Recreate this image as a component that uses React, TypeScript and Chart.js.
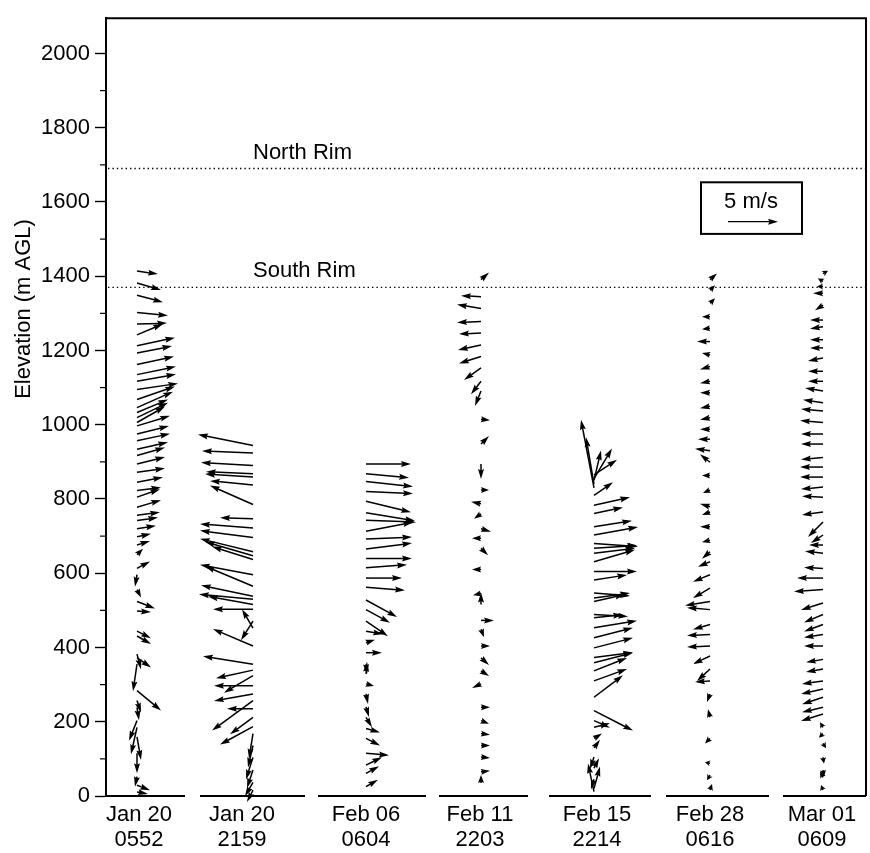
import React, { useEffect, useRef } from 'react';
import { Chart, registerables } from 'chart.js';

Chart.register(...registerables);

const FONT = '"Liberation Sans", Arial, Helvetica, sans-serif';

// Profile captions (date / local time)
const profileDates = ['Jan 20', 'Jan 20', 'Feb 06', 'Feb 11', 'Feb 15', 'Feb 28', 'Mar 01'];
const profileTimes = ['0552', '2159', '0604', '2203', '2214', '0616', '0609'];

// Horizontal scale is in m/s so that wind components map straight to pixels.
const profileBase = [3.1, 14.7, 26.0, 37.5, 48.8, 60.4, 71.7];
const labelCenters = [3.3, 13.6, 26.0, 37.4, 49.1, 60.4, 71.6];
const baselineSegments = [
  [0, 7.9], [9.4, 19.9], [21.2, 32.0], [33.3, 42.2], [44.3, 54.5], [56.0, 66.3], [67.7, 76.0],
];

const rimNames = ['North Rim', 'South Rim'];
const rimHeights = [1690, 1370];

// Wind vectors: height (m AGL), eastward u and northward v (m/s)
const hJan20a = [11, 29, 52, 115, 159, 185, 203, 239, 257, 284, 355, 373, 382, 431, 444, 498, 524, 556, 596, 613, 650, 676, 698, 720, 742, 756, 778, 805, 823, 845, 872, 894, 917, 934, 957, 975, 997, 1006, 1019, 1033, 1046, 1068, 1095, 1117, 1135, 1162, 1193, 1213, 1242, 1271, 1302, 1349, 1382, 1414];
const uJan20a = [1.1, 1.3, -0.2, 0, 0.4, -0.6, -0.8, 0.2, 0.4, 2.4, -0.4, 1.4, 0.4, 1.4, 1.4, 1.4, 1.8, 0.4, -0.2, 1.3, 0.6, 1.3, 1.4, 1.9, 2.1, 2.3, 2.4, 2.3, 2.4, 2.6, 2.8, 2.8, 2.8, 3.1, 3.3, 3.2, 3.3, 2.8, 3.1, 3.1, 3.6, 3.8, 4.1, 3.9, 3.9, 3.7, 3.5, 3.8, 2.6, 3.0, 3.1, 2.6, 2.4, 2.1];
const vJan20a = [-0.2, -0.5, -1.0, -2.0, -2.3, -2.7, -2.0, -1.3, -1.2, -2.0, -2.7, -1.0, -1.5, -0.8, -0.7, -0.1, -0.7, -0.8, -1.2, 0.7, 0.6, 0.4, 0.3, 0.3, 0.3, 0.3, 0.7, 0.8, 0.3, 0.5, 0.4, 0.7, 0.8, 0.7, 0.7, 0.8, 1.0, 1.6, 1.5, 1.3, 1.6, 1.3, 0.6, 0.7, 0.8, 0.8, 0.7, 0.8, 1.1, 0.1, -0.3, -0.7, -0.7, -0.3];

const hJan20b = [16, 37, 70, 104, 136, 168, 187, 212, 235, 257, 275, 297, 324, 339, 355, 404, 452, 471, 503, 516, 530, 538, 565, 596, 637, 647, 658, 696, 722, 747, 785, 838, 859, 868, 890, 924, 944];
const uJan20b = [-0.6, -0.8, -0.6, -0.7, -0.5, -0.4, -3.3, -2.3, -2.6, -4.1, -3.9, -3.9, -2.9, -3.7, -5.0, -4.0, -1.1, -1.2, -4.0, -4.5, -5.4, -5.2, -4.8, -5.3, -4.1, -4.8, -5.3, -5.3, -5.3, -3.3, -4.3, -4.3, -4.8, -4.7, -5.2, -5.1, -5.5];
const vJan20b = [-1.2, -1.4, -1.8, -2.2, -2.2, -2.5, -1.8, -1.7, 0, -3.0, -0.7, 0, -1.7, -0.8, 0.8, 1.7, 1.9, -1.9, 0, 0.8, 0.5, 1.1, 2.0, 1.0, 1.3, 1.4, 1.3, 0.7, 0.4, 0.1, 1.9, 0.4, 0.3, 0.2, 0.3, 0.2, 1.1];

const hFeb06 = [25, 61, 83, 115, 155, 182, 212, 240, 275, 302, 329, 355, 386, 413, 444, 471, 502, 528, 562, 587, 615, 640, 665, 692, 713, 743, 763, 794, 820, 847, 868, 894];
const uFeb06 = [1.2, 1.3, 1.6, 2.3, 1.4, 1.4, 0.6, 0.3, 0.2, 0.8, 0.1, 0.1, 1.6, 0.9, 1.7, 2.2, 2.4, 3.1, 3.9, 3.6, 4.1, 4.6, 4.6, 4.6, 4.7, 5.0, 4.9, 4.5, 4.7, 4.7, 4.3, 4.5];
const vFeb06 = [0.7, 0.7, 0.8, -0.2, -0.7, -0.4, -1.0, -1.0, -1.0, -0.2, 1.2, -1.0, 0, 0.3, -0.3, -1.5, -1.3, -1.7, -0.3, 0, 0.3, 0, 0.6, 0.2, 0.9, -0.2, -0.8, -1.1, -0.2, -0.5, -0.4, 0];

const hFeb11 = [35, 65, 105, 136, 168, 203, 239, 302, 337, 372, 404, 449, 473, 516, 546, 610, 667, 694, 720, 760, 787, 824, 894, 948, 1015, 1091, 1117, 1153, 1184, 1215, 1247, 1278, 1313, 1345, 1391];
const uFeb11 = [0, 0.9, 0.9, 0.9, 0.9, 0.8, 0.9, -0.9, 0.8, 0.8, 0.9, 0.3, 1.3, 0, -0.8, -0.9, 0.7, -0.9, 1.0, -0.7, -1.0, 0.8, 0, 0.8, 0.9, -0.6, -1.0, -1.7, -2.2, -2.3, -2.2, -2.4, -2.4, -2.0, 0.8];
const vFeb11 = [0.8, 0.1, -0.1, 0, -0.1, -0.3, 0, -0.4, -0.5, -0.7, 0, -0.8, 0, 1.2, -0.2, 0, -0.7, 0, -0.3, -0.5, 0.2, 0, -1.5, 0.8, -0.1, -1.5, -1.3, -1.2, -0.7, -0.5, -0.1, -0.1, 0.4, 0.1, 0.7];

const hFeb15 = [12, 20, 45, 75, 105, 130, 155, 185, 203, 230, 266, 310, 337, 359, 373, 399, 426, 453, 480, 489, 524, 533, 547, 582, 605, 631, 654, 667, 680, 703, 725, 761, 783, 810, 830, 840, 850, 855, 865];
const uFeb15 = [-0.6, 0.6, -0.3, 0.5, -0.4, 0.6, 0.8, 1.6, 1.6, 3.9, 2.9, 3.3, 3.3, 3.9, 3.9, 3.9, 3.9, 4.3, 2.9, 3.4, 3.1, 3.6, 3.6, 3.3, 4.3, 4.1, 4.1, 4.3, 4.4, 4.4, 3.8, 2.9, 3.6, 1.9, -1.3, -0.8, 0.7, 1.8, 2.3];
const vFeb15 = [2.8, 2.2, -1.0, 1.0, -1.2, 0.8, 0.5, 0.4, -0.7, -2.0, 2.2, 1.2, 1.3, 1.0, 0.5, 1.0, 1.0, 0.7, 0.3, -0.2, 0.7, 0.5, -0.3, 0.5, 0, 1.2, 0.5, 0.3, -0.3, 0.8, 0.6, 0.6, 0.8, 1.3, 6.8, 4.7, 3.0, 3.0, 1.5];

const hFeb28 = [16, 56, 88, 155, 212, 275, 310, 342, 377, 404, 435, 462, 502, 524, 560, 596, 631, 658, 689, 725, 765, 779, 824, 863, 899, 930, 961, 988, 1019, 1050, 1086, 1117, 1157, 1188, 1224, 1260, 1291, 1327, 1362, 1391];
const uFeb28 = [0.2, -0.3, -0.5, -0.5, -0.2, -0.3, -1.5, -1.3, -1.7, -2.3, -2.3, -1.7, -2.3, -2.5, -1.7, -1.7, -1.2, -0.8, -0.8, -1.0, -0.8, -1.0, -0.7, -0.8, -1.0, -1.5, -1.2, -1.0, -1.0, -1.0, -1.0, -1.0, -1.0, -0.8, -1.3, -0.8, -0.8, 0.5, 0.5, 0.7];
const vFeb28 = [0.6, -0.5, 0.1, -0.5, 0.8, -0.8, -0.1, -1.2, -0.8, -0.1, -0.1, -0.5, 0.2, -0.4, -1.0, -0.7, -0.5, -0.7, -0.2, 0, -0.3, 0.3, -0.3, 0, 0.8, 0.2, 0, 0, -0.2, -0.2, 0, -0.2, -0.3, 0.2, 0, -0.1, 0, 0.5, 0.5, 0.6];

const hMar01 = [16, 50, 70, 104, 142, 168, 185, 221, 239, 266, 288, 310, 342, 368, 404, 435, 462, 489, 520, 556, 587, 613, 654, 676, 703, 738, 765, 805, 832, 859, 886, 912, 948, 975, 1006, 1037, 1059, 1091, 1117, 1144, 1180, 1207, 1229, 1264, 1282, 1322, 1354, 1372, 1386, 1407];
const uMar01 = [-0.2, -0.3, 0.1, 0.1, 0.3, -0.4, -0.3, -2.2, -2.1, -2.1, -2.2, -2.1, -1.7, -1.7, -1.9, -1.9, -1.9, -1.9, -2.2, -2.9, -2.6, -1.9, -1.8, -1.4, -1.2, -1.5, -2.1, -2.1, -2.2, -2.3, -2.3, -2.2, -2.2, -2.2, -2.3, -2.2, -2.0, -1.8, -1.5, -1.5, -1.5, -1.3, -1.3, -1.3, -1.3, -0.8, -1.0, -0.6, -0.5, 0.5];
const vMar01 = [0.5, 0.6, -0.7, -0.6, -0.5, -0.4, 0.5, -0.7, -0.5, -0.7, -0.5, -0.3, -0.3, -0.3, 0, -0.3, -0.7, -0.8, -0.7, -0.2, 0, 0.1, 0.2, 0, -0.8, -1.5, -0.3, 0.1, -0.2, 0, 0, -0.2, 0, 0, 0.2, 0.2, 0.3, 0.3, 0, 0, -0.3, 0, 0, -0.2, 0, -0.5, 0, 0, 0.3, 0.3];

const profiles = [
  { h: hJan20a, u: uJan20a, v: vJan20a },
  { h: hJan20b, u: uJan20b, v: vJan20b },
  { h: hFeb06, u: uFeb06, v: vFeb06 },
  { h: hFeb11, u: uFeb11, v: vFeb11 },
  { h: hFeb15, u: uFeb15, v: vFeb15 },
  { h: hFeb28, u: uFeb28, v: vFeb28 },
  { h: hMar01, u: uMar01, v: vMar01 },
];

const referenceSpeed = 5; // m/s, key arrow

function drawArrow(ctx: CanvasRenderingContext2D, x0: number, y0: number, x1: number, y1: number) {
  const dx = x1 - x0;
  const dy = y1 - y0;
  const len = Math.hypot(dx, dy);
  if (len < 0.5) return;
  const ux = dx / len;
  const uy = dy / len;
  const headLen = Math.min(10, len);
  const hw = 3;
  const bx = x1 - ux * headLen;
  const by = y1 - uy * headLen;
  ctx.beginPath();
  ctx.moveTo(x0, y0);
  ctx.lineTo(bx + ux * 2, by + uy * 2);
  ctx.stroke();
  ctx.beginPath();
  ctx.moveTo(x1, y1);
  ctx.lineTo(bx - uy * hw, by + ux * hw);
  ctx.lineTo(bx + ux * 1.5, by + uy * 1.5);
  ctx.lineTo(bx + uy * hw, by - ux * hw);
  ctx.closePath();
  ctx.fill();
}

const windArrows = {
  id: 'windArrows',
  afterDatasetsDraw(chart: any) {
    const { ctx, scales } = chart;
    const xs = scales.x;
    const unit = xs.getPixelForValue(1) - xs.getPixelForValue(0);
    ctx.save();
    ctx.strokeStyle = '#000';
    ctx.fillStyle = '#000';
    ctx.lineWidth = 1.5;
    ctx.lineCap = 'butt';
    chart.data.datasets.forEach((_ds: any, di: number) => {
      const meta = chart.getDatasetMeta(di);
      const p = profiles[di];
      meta.data.forEach((pt: any, i: number) => {
        drawArrow(ctx, pt.x, pt.y, pt.x + p.u[i] * unit, pt.y - p.v[i] * unit);
      });
    });
    ctx.restore();
  },
};

const frameAndNotes = {
  id: 'frameAndNotes',
  afterDraw(chart: any) {
    const { ctx, chartArea, scales } = chart;
    const xs = scales.x;
    const ys = scales.y;
    const { left, right, top, bottom } = chartArea;
    ctx.save();
    ctx.strokeStyle = '#000';
    ctx.fillStyle = '#000';

    // top and right frame
    ctx.lineWidth = 2;
    ctx.beginPath();
    ctx.moveTo(left, top);
    ctx.lineTo(right - 2, top);
    ctx.lineTo(right - 2, bottom);
    ctx.stroke();

    // broken base line under each profile
    ctx.lineWidth = 2.2;
    baselineSegments.forEach(([a, b]) => {
      ctx.beginPath();
      ctx.moveTo(xs.getPixelForValue(a), bottom);
      ctx.lineTo(xs.getPixelForValue(b), bottom);
      ctx.stroke();
    });

    // minor ticks every 100 m
    ctx.lineWidth = 1.2;
    for (let v = 100; v < ys.max; v += 200) {
      const y = ys.getPixelForValue(v);
      ctx.beginPath();
      ctx.moveTo(left - 6, y);
      ctx.lineTo(left, y);
      ctx.stroke();
    }

    // canyon rim levels
    ctx.lineWidth = 1.4;
    ctx.setLineDash([1.4, 3]);
    ctx.font = `22px ${FONT}`;
    ctx.textAlign = 'left';
    ctx.textBaseline = 'alphabetic';
    rimHeights.forEach((h, i) => {
      const y = ys.getPixelForValue(h);
      ctx.beginPath();
      ctx.moveTo(left + 2, y);
      ctx.lineTo(right - 3, y);
      ctx.stroke();
      ctx.fillText(rimNames[i], xs.getPixelForValue(14.7), y - 10);
    });
    ctx.setLineDash([]);

    // speed key
    const bx0 = xs.getPixelForValue(59.5);
    const bx1 = xs.getPixelForValue(69.6);
    const by0 = ys.getPixelForValue(1653);
    const by1 = ys.getPixelForValue(1514);
    ctx.lineWidth = 2;
    ctx.strokeRect(bx0, by0, bx1 - bx0, by1 - by0);
    ctx.textAlign = 'center';
    ctx.textBaseline = 'middle';
    ctx.fillText('5 m/s', xs.getPixelForValue(64.5), ys.getPixelForValue(1600));
    ctx.lineWidth = 1.4;
    const ay = ys.getPixelForValue(1547);
    drawArrow(ctx, xs.getPixelForValue(62.2), ay, xs.getPixelForValue(62.2 + referenceSpeed), ay);

    // profile captions
    ctx.font = `22px ${FONT}`;
    profileDates.forEach((d, i) => {
      const x = xs.getPixelForValue(labelCenters[i]);
      ctx.fillText(d, x, bottom + 19);
      ctx.fillText(profileTimes[i], x, bottom + 44);
    });

    // vertical axis title
    ctx.save();
    ctx.translate(24, 309);
    ctx.rotate(-Math.PI / 2);
    ctx.font = `22px ${FONT}`;
    ctx.fillText('Elevation (m AGL)', 0, 0);
    ctx.restore();

    ctx.restore();
  },
};

export default function App() {
  const ref = useRef<HTMLCanvasElement | null>(null);

  useEffect(() => {
    document.body.style.margin = '0';
    const canvas = ref.current;
    if (!canvas) return;
    const chart = new Chart(canvas, {
      type: 'scatter',
      data: {
        datasets: profiles.map((p, i) => ({
          label: `${profileDates[i]} ${profileTimes[i]}`,
          data: p.h.map((h) => ({ x: profileBase[i], y: h })),
          pointRadius: 0,
          showLine: false,
        })),
      },
      options: {
        animation: false,
        responsive: false,
        devicePixelRatio: 1,
        events: [],
        layout: { padding: { left: 0, top: 13, right: 2, bottom: 57 } },
        plugins: { legend: { display: false }, tooltip: { enabled: false } },
        scales: {
          x: { type: 'linear', display: false, min: 0, max: 76.2 },
          y: {
            type: 'linear',
            min: 0,
            max: 2095,
            ticks: {
              stepSize: 200,
              includeBounds: false,
              color: '#000',
              padding: 5,
              font: { family: FONT, size: 22 },
              callback: (value: any) => String(value),
            },
            grid: {
              drawOnChartArea: false,
              drawTicks: true,
              tickLength: 11,
              tickWidth: 1.4,
              tickColor: '#000',
            },
            border: { display: true, color: '#000', width: 2 },
            afterFit: (s: any) => {
              s.width = 106;
            },
          },
        },
      },
      plugins: [windArrows, frameAndNotes],
    });
    return () => chart.destroy();
  }, []);

  return (
    <div style={{ width: 870, height: 853, background: '#fff' }}>
      <canvas ref={ref} width={870} height={853} style={{ display: 'block' }} />
    </div>
  );
}
